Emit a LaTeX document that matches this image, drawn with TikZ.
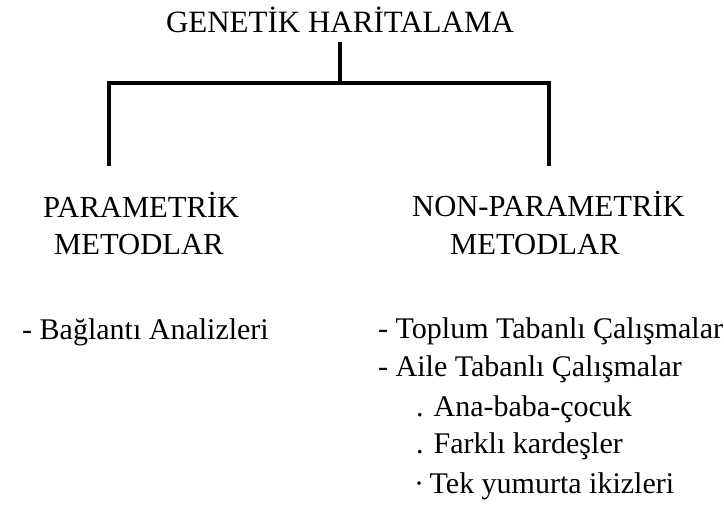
\documentclass[tikz,border=0pt]{standalone}
\usepackage{fontspec}
\setmainfont{Liberation Serif}
\begin{document}
\begin{tikzpicture}[x=1pt,y=-1pt,
  lbl/.style={anchor=base west,inner sep=0pt,font=\fontsize{30}{34}\selectfont},
  head/.style={lbl,font=\fontsize{30.6}{35}\selectfont},
  bar/.style={draw=black,line width=4pt,line join=miter}]
\useasboundingbox (0,0) rectangle (724,509);

% title and the bracket below it
\node[lbl,anchor=base,font=\fontsize{31}{35}\selectfont] (title) at (340,32) {GENETİK HARİTALAMA};
\coordinate (stemtop) at (340,42);
\coordinate (fork) at (340,83);
\coordinate (legl) at (109,166);
\coordinate (legr) at (549,166);
\draw[bar] (stemtop) -- (fork);
\draw[bar] (legl) |- (fork) -| (legr);

% left branch
\node[head] (par1) at (43,217) {PARAMETRİK};
\node[head] (par2) at (54,254) {METODLAR};
\node[lbl] (bag) at (22,339) {- Bağlantı Analizleri};

% right branch
\node[head] (np1) at (412,216) {NON-PARAMETRİK};
\node[head] (np2) at (450,254) {METODLAR};
\node[lbl] (top1) at (378,338) {- Toplum Tabanlı Çalışmalar};
\node[lbl] (aile) at (378,376) {- Aile Tabanlı Çalışmalar};
\node[lbl] (ana) at (416,416) {. Ana-baba-çocuk};
\node[lbl] (fark) at (416,453) {. Farklı kardeşler};
\node[lbl] (tek) at (414,493) {·\hspace{-2pt} Tek yumurta ikizleri};
\end{tikzpicture}
\end{document}
